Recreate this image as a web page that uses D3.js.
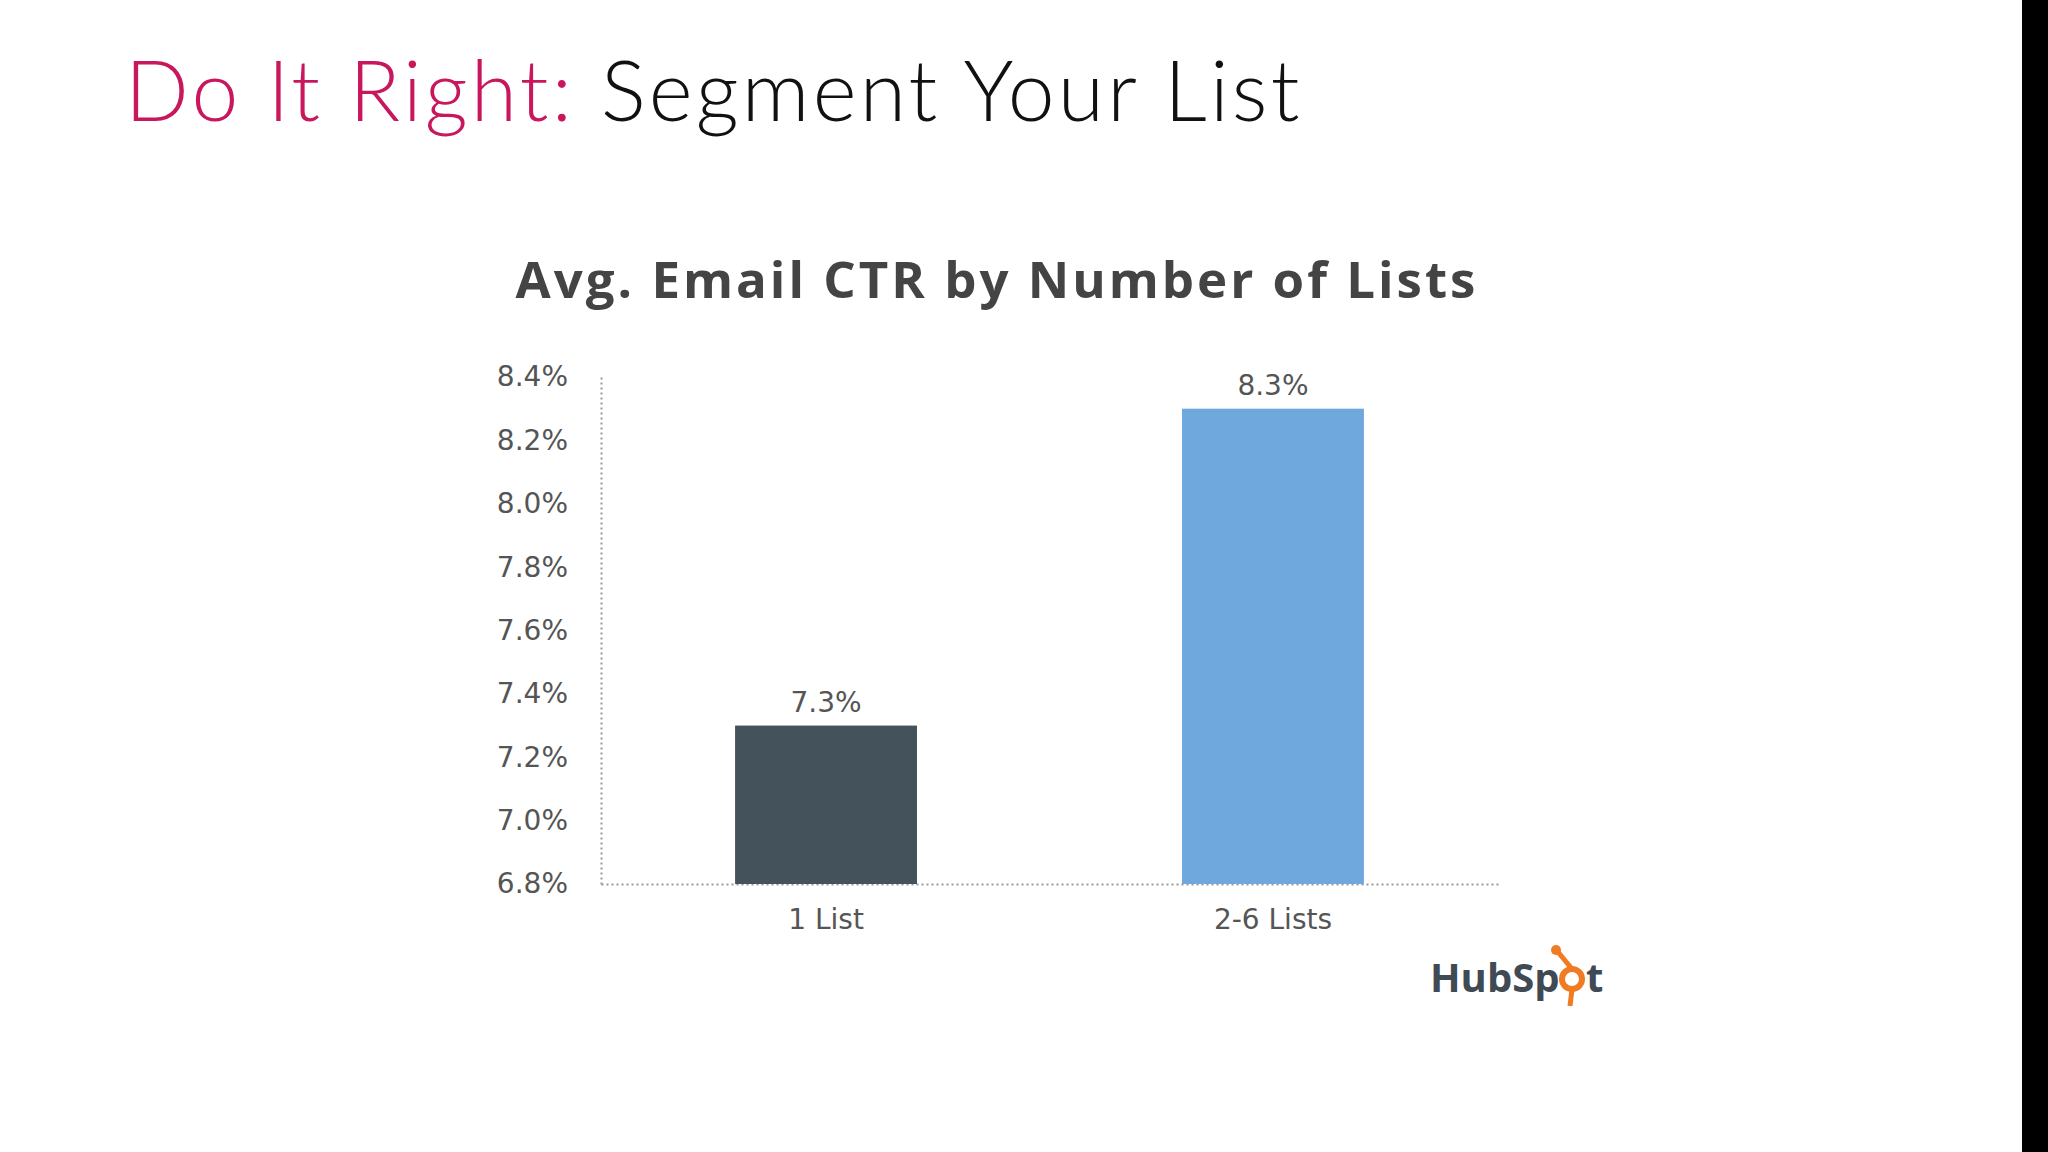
<!DOCTYPE html>
<html><head><meta charset="utf-8">
<script src="https://cdn.jsdelivr.net/npm/d3@7"></script>
<style>body{margin:0;background:#fff}</style></head>
<body><svg id="c" width="2048" height="1152"></svg>
<script>
const categories = ["1 List", "2-6 Lists"];
const values = [7.3, 8.3];
const tickValues = [6.8, 7.0, 7.2, 7.4, 7.6, 7.8, 8.0, 8.2, 8.4];
const colors = ["#44525c", "#6fa8dc"];

const svg = d3.select("#c");
svg.append("rect").attr("x", 2022).attr("y", 0).attr("width", 26).attr("height", 1152).attr("fill", "#000");

const t = svg.append("text").attr("x", 125).attr("y", 121)
  .attr("font-family", "Lato, 'Open Sans', sans-serif").attr("font-size", 84).attr("font-weight", 300)
  .attr("letter-spacing", 3.2);
t.append("tspan").attr("fill", "#c8175d").text("Do It Right: ");
t.append("tspan").attr("fill", "#111").text("Segment Your List");

svg.append("text").attr("x", 997).attr("y", 298).attr("text-anchor", "middle")
  .attr("font-family", "'Open Sans', sans-serif").attr("font-weight", 700).attr("font-size", 51)
  .attr("letter-spacing", 3).attr("fill", "#444").text("Avg. Email CTR by Number of Lists");

const y = d3.scaleLinear().domain([6.8, 8.4]).range([884, 377]);
const x = d3.scaleBand().domain(categories).range([601, 1498]).paddingInner(0.593).paddingOuter(0.30);

const font = "'DejaVu Sans', sans-serif";
const ya = svg.append("g").attr("transform", "translate(601,0)")
  .call(d3.axisLeft(y).tickValues(tickValues).tickSize(0).tickPadding(33).tickFormat(d => d3.format(".1f")(d) + "%"));
ya.select(".domain").attr("stroke", "#999").attr("stroke-dasharray", "2,3").attr("stroke-width", 2);
ya.selectAll("text").attr("font-family", font).attr("font-size", 28).attr("fill", "#555");

const xa = svg.append("g").attr("transform", "translate(0,884)")
  .call(d3.axisBottom(x).tickSize(0).tickPadding(20));
xa.select(".domain").attr("stroke", "#999").attr("stroke-dasharray", "2,3").attr("stroke-width", 2);
xa.selectAll("text").attr("font-family", font).attr("font-size", 28).attr("fill", "#555").attr("dy", "0.9em");

svg.selectAll(".bar").data(values).join("rect")
  .attr("x", (d, i) => x(categories[i])).attr("width", x.bandwidth())
  .attr("y", d => y(d)).attr("height", d => y(6.8) - y(d))
  .attr("fill", (d, i) => colors[i]);

svg.selectAll(".lbl").data(values).join("text")
  .attr("x", (d, i) => x(categories[i]) + x.bandwidth() / 2).attr("y", d => y(d) - 14)
  .attr("text-anchor", "middle").attr("font-family", font).attr("font-size", 28).attr("fill", "#555")
  .text(d => d.toFixed(1) + "%");

const lg = svg.append("g").attr("transform", "translate(1430,992)");
lg.append("text").attr("font-family", "'Open Sans', sans-serif").attr("font-weight", 700).attr("font-size", 40)
  .attr("fill", "#3f4a54").text("HubSp");
lg.append("circle").attr("cx", 142).attr("cy", -13).attr("r", 10).attr("fill", "none").attr("stroke", "#f07b22").attr("stroke-width", 6);
lg.append("line").attr("x1", 142).attr("y1", -23).attr("x2", 128).attr("y2", -40).attr("stroke", "#f07b22").attr("stroke-width", 5);
lg.append("line").attr("x1", 142).attr("y1", -3).attr("x2", 140).attr("y2", 14).attr("stroke", "#f07b22").attr("stroke-width", 5);
lg.append("circle").attr("cx", 126).attr("cy", -42).attr("r", 5).attr("fill", "#f07b22");
lg.append("text").attr("x", 156).attr("font-family", "'Open Sans', sans-serif").attr("font-weight", 700).attr("font-size", 40)
  .attr("fill", "#3f4a54").text("t");
</script></body></html>
